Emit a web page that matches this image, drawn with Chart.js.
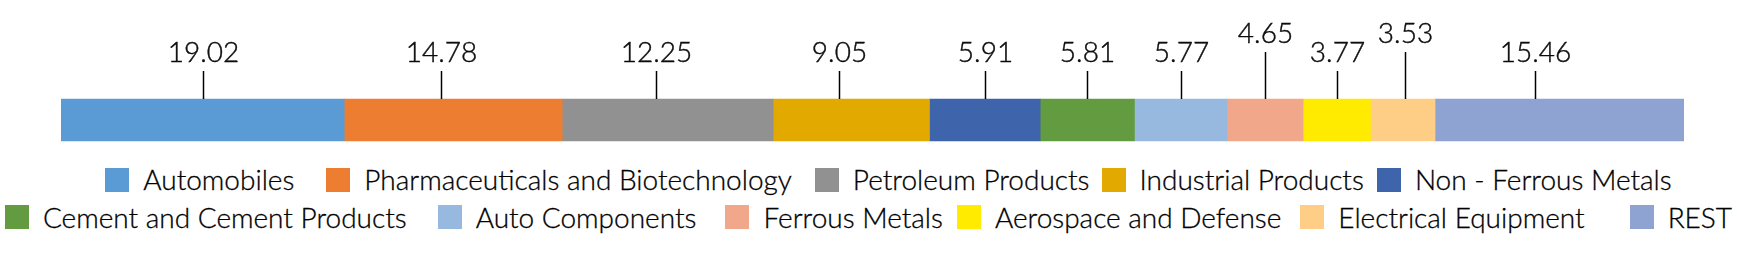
<!DOCTYPE html>
<html>
<head>
<meta charset="utf-8">
<script src="https://cdn.jsdelivr.net/npm/chart.js@4/dist/chart.umd.min.js"></script>
<style>
  body { margin: 0; background: #fff; width: 1737px; height: 253px; overflow: hidden; font-family: Lato, sans-serif; font-weight: 300; }
  .chart-box { position: absolute; left: 0; top: 0; width: 1737px; height: 160px; }
  .legend { position: absolute; left: 0; top: 161px; width: 1737px; display: flex; flex-wrap: wrap; justify-content: center; font-size: 28px; line-height: 37.5px; color: #000; -webkit-text-stroke: 0.3px #000; }
  .legend__item { display: flex; align-items: center; white-space: nowrap; }
  .legend__item:first-child { margin-left: 40px; }
  .legend__box { width: 24px; height: 24px; margin-right: 14px; }
</style>
</head>
<body>
<div class="chart-box"><canvas id="chart" width="1737" height="160"></canvas></div>
<div class="legend" id="legend"></div>
<script>
// Sectors, in the order they sit along the bar
const categories = [
  'Automobiles',
  'Pharmaceuticals and Biotechnology',
  'Petroleum Products',
  'Industrial Products',
  'Non - Ferrous Metals',
  'Cement and Cement Products',
  'Auto Components',
  'Ferrous Metals',
  'Aerospace and Defense',
  'Electrical Equipment',
  'REST',
];

// Printed value labels
const valueLabels = ['19.02', '14.78', '12.25', '9.05', '5.91', '5.81', '5.77', '4.65', '3.77', '3.53', '15.46'];

// Segment lengths as drawn in the picture (share of the bar, %)
const barShares = [17.45, 13.43, 13.0, 9.63, 6.82, 5.81, 5.71, 4.68, 4.15, 3.98, 15.35];

const colors = [
  '#5B9BD5', '#ED7D31', '#919191', '#E2AA00', '#3E64AC', '#629B40',
  '#97B8DF', '#F1A78A', '#FFEB00', '#FECE86', '#8FA3D3',
];

// Label placement tweaks (px): sideways shift and which ones sit higher
const labelShiftX = [0, -12, -12, -12, 0, 0, 0, 0, 0, 2, -25];
const labelRaised = [false, false, false, false, false, false, false, true, false, true, false];

// Space after each legend entry (px), like the uneven spacing of the original
const legendGapAfter = [32, 23, 12, 13, 0, 31, 29, 14, 19, 45, 0];

const LINE_LEN = 28;
const RAISE = 19;

// Draw leader lines + value labels above each segment
const valueLabelPlugin = {
  id: 'valueLabels',
  afterDatasetsDraw(chart) {
    const ctx = chart.ctx;
    ctx.save();
    ctx.strokeStyle = '#000';
    ctx.fillStyle = '#111';
    ctx.font = '300 28px Lato';
    ctx.textAlign = 'center';
    ctx.textBaseline = 'alphabetic';
    chart.data.datasets.forEach((ds, i) => {
      const bar = chart.getDatasetMeta(i).data[0];
      const x = Math.round((bar.x + bar.base) / 2 + labelShiftX[i]) + 0.5;
      const barTop = bar.y - bar.height / 2;
      const lineTop = barTop - LINE_LEN - (labelRaised[i] ? RAISE : 0);
      ctx.lineWidth = 1.5;
      ctx.beginPath();
      ctx.moveTo(x, barTop);
      ctx.lineTo(x, lineTop);
      ctx.stroke();
      ctx.lineWidth = 0.4;
      ctx.fillText(valueLabels[i], x, lineTop - 9);
      ctx.strokeText(valueLabels[i], x, lineTop - 9);
    });
    ctx.restore();
  }
};

function buildLegend(chart) {
  const legend = document.querySelector('#legend');
  chart.data.datasets.forEach((ds, i) => {
    const item = document.createElement('div');
    item.className = 'legend__item';
    item.style.marginRight = legendGapAfter[i] + 'px';
    const box = document.createElement('span');
    box.className = 'legend__box';
    box.style.background = ds.backgroundColor;
    const text = document.createElement('span');
    text.textContent = ds.label;
    item.appendChild(box);
    item.appendChild(text);
    legend.appendChild(item);
  });
}

function init() {
  const chart = new Chart(document.querySelector('#chart').getContext('2d'), {
    type: 'bar',
    data: {
      labels: ['Sectors'],
      datasets: categories.map((name, i) => ({
        label: name,
        data: [barShares[i]],
        backgroundColor: colors[i],
        borderWidth: 0,
        barThickness: 42,
      })),
    },
    options: {
      indexAxis: 'y',
      responsive: false,
      animation: false,
      devicePixelRatio: 1,
      layout: { padding: { left: 61, right: 53, top: 80, bottom: 0 } },
      scales: {
        x: { stacked: true, display: false, min: 0, max: 100 },
        y: { stacked: true, display: false },
      },
      plugins: {
        legend: { display: false },
        tooltip: { enabled: false },
      },
    },
    plugins: [valueLabelPlugin],
  });
  buildLegend(chart);
}

document.fonts.load('300 28px Lato').then(init, init);
</script>
</body>
</html>
